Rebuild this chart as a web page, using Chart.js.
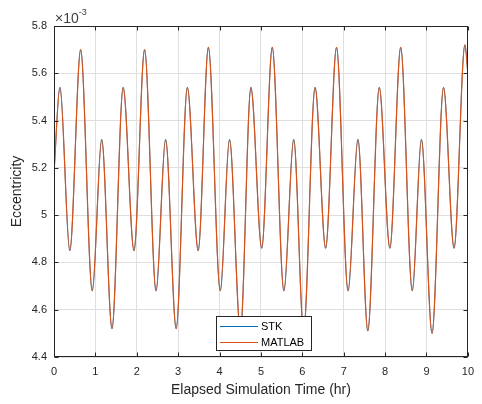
<!DOCTYPE html>
<html>
<head>
<meta charset="utf-8">
<script src="https://cdn.jsdelivr.net/npm/chart.js@4.4.1/dist/chart.umd.min.js"></script>
<style>
  html, body { margin: 0; padding: 0; background: #fff; }
  canvas { display: block; }
</style>
</head>
<body>
<canvas id="eccChart" width="482" height="404"></canvas>
<script>
// turning points of the eccentricity curve
const timeHr = [0, 0.143, 0.382, 0.644, 0.924, 1.153, 1.401, 1.671, 1.933, 2.189, 2.465,
    2.697, 2.952, 3.222, 3.484, 3.730, 4.017, 4.241, 4.504, 4.757, 5.019, 5.274, 5.554,
    5.792, 6.031, 6.308, 6.563, 6.826, 7.105, 7.344, 7.582, 7.859, 8.115, 8.377, 8.656,
    8.878, 9.134, 9.411, 9.666, 9.928, 10];
// eccentricity, units of 1e-3
const stkEcc = [5.18, 5.54, 4.85, 5.70, 4.68, 5.32, 4.52, 5.54, 4.85, 5.70, 4.68,
    5.32, 4.52, 5.54, 4.85, 5.71, 4.68, 5.32, 4.51, 5.54, 4.86, 5.71, 4.68,
    5.32, 4.51, 5.54, 4.86, 5.71, 4.68, 5.32, 4.51, 5.54, 4.86, 5.71, 4.68,
    5.32, 4.50, 5.54, 4.86, 5.72, 5.60];
const matlabEcc = [5.18, 5.54, 4.85, 5.70, 4.68, 5.32, 4.52, 5.54, 4.85, 5.70, 4.68,
    5.32, 4.52, 5.54, 4.85, 5.71, 4.68, 5.32, 4.51, 5.54, 4.86, 5.71, 4.68,
    5.32, 4.51, 5.54, 4.86, 5.71, 4.68, 5.32, 4.51, 5.54, 4.86, 5.71, 4.68,
    5.32, 4.50, 5.54, 4.86, 5.72, 5.60];
const xTicks = [0, 1, 2, 3, 4, 5, 6, 7, 8, 9, 10];
const yTicks = [4.4, 4.6, 4.8, 5, 5.2, 5.4, 5.6, 5.8];

const FONT = '"Liberation Sans", Arial, sans-serif';
const AXIS_COL = '#262626';

const toPoints = (ys) => ys.map((v, i) => ({ x: timeHr[i], y: v }));

// box, inward ticks, exponent and legend, MATLAB style
const matlabFrame = {
    id: 'matlabFrame',
    afterDraw(chart) {
        const { ctx, chartArea: a, scales: { x, y } } = chart;
        const L = Math.round(a.left) + 0.5, R = Math.round(a.right) - 0.5;
        const T = Math.round(a.top) + 0.5, B = Math.round(a.bottom) - 0.5;
        ctx.save();
        ctx.strokeStyle = AXIS_COL;
        ctx.lineWidth = 1;
        ctx.strokeRect(L, T, R - L, B - T);

        ctx.beginPath();
        xTicks.forEach(v => {
            const px = Math.round(x.getPixelForValue(v)) + 0.5;
            ctx.moveTo(px, B); ctx.lineTo(px, B - 4);
            ctx.moveTo(px, T); ctx.lineTo(px, T + 4);
        });
        yTicks.forEach(v => {
            const py = Math.round(y.getPixelForValue(v)) + 0.5;
            ctx.moveTo(L, py); ctx.lineTo(L + 4, py);
            ctx.moveTo(R, py); ctx.lineTo(R - 4, py);
        });
        ctx.stroke();

        // x 10^-3
        ctx.fillStyle = '#404040';
        ctx.textBaseline = 'alphabetic';
        ctx.textAlign = 'left';
        ctx.font = '14px ' + FONT;
        ctx.fillText('\u00d710', 55, 23);
        const w = ctx.measureText('\u00d710').width;
        ctx.font = '9px ' + FONT;
        ctx.fillText('-3', 55 + w, 15);

        // legend
        const bx = 216.5, by = 316.5, bw = 95, bh = 34;
        ctx.fillStyle = '#fff';
        ctx.fillRect(bx, by, bw, bh);
        ctx.strokeStyle = AXIS_COL;
        ctx.strokeRect(bx, by, bw, bh);
        ctx.font = '11px ' + FONT;
        ctx.textBaseline = 'middle';
        const rows = [chart.data.datasets[1], chart.data.datasets[0]];
        rows.forEach((ds, i) => {
            const ly = 326 + i * 16;
            ctx.strokeStyle = ds.borderColor;
            ctx.lineWidth = 1;
            ctx.beginPath();
            ctx.moveTo(220, ly + 0.5); ctx.lineTo(258, ly + 0.5);
            ctx.stroke();
            ctx.fillStyle = '#000';
            ctx.fillText(ds.label, 261, ly + 1);
        });
        ctx.restore();
    }
};

new Chart(document.getElementById('eccChart').getContext('2d'), {
    type: 'line',
    data: {
        datasets: [
            { label: 'MATLAB', data: toPoints(matlabEcc), borderColor: '#D95319', borderWidth: 1.2, order: 0 },
            { label: 'STK', data: toPoints(stkEcc), borderColor: '#0072BD', borderWidth: 0.8, order: 1 }
        ]
    },
    options: {
        responsive: false,
        animation: false,
        devicePixelRatio: 1,
        layout: { padding: { left: 0, right: 9, top: 26, bottom: 0 } },
        elements: { point: { radius: 0 }, line: { cubicInterpolationMode: 'monotone' } },
        scales: {
            x: {
                type: 'linear', min: 0, max: 10,
                afterFit: (axis) => { axis.height = 47; },
                afterBuildTicks: (axis) => { axis.ticks = xTicks.map(v => ({ value: v })); },
                grid: { color: '#dfdfdf', drawTicks: false },
                border: { display: false },
                ticks: { padding: 8, color: AXIS_COL, font: { family: FONT, size: 11 } },
                title: { display: true, text: 'Elapsed Simulation Time (hr)', color: AXIS_COL,
                    font: { family: FONT, size: 14 }, padding: { top: 0, bottom: 5 } }
            },
            y: {
                min: 4.4, max: 5.8,
                afterFit: (axis) => { axis.width = 54; },
                afterBuildTicks: (axis) => { axis.ticks = yTicks.map(v => ({ value: v })); },
                grid: { color: '#dfdfdf', drawTicks: false },
                border: { display: false },
                ticks: { padding: 7, color: AXIS_COL, font: { family: FONT, size: 11 },
                    callback: (v) => String(Math.round(v * 10) / 10) },
                title: { display: true, text: 'Eccentricity', color: AXIS_COL,
                    font: { family: FONT, size: 14 }, padding: { top: 9, bottom: 0 } }
            }
        },
        plugins: { legend: { display: false }, tooltip: { enabled: false } }
    },
    plugins: [matlabFrame]
});
</script>
</body>
</html>
